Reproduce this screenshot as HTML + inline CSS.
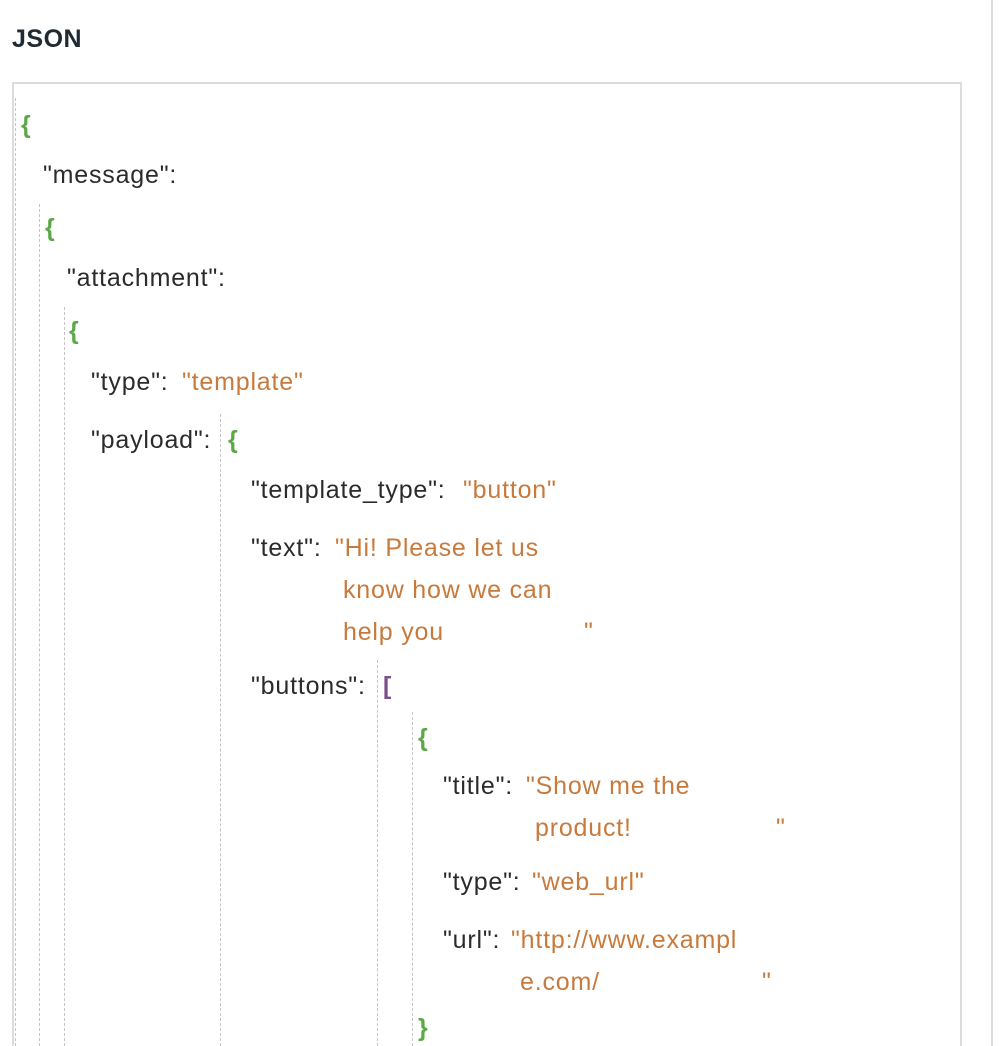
<!DOCTYPE html>
<html><head><meta charset="utf-8"><style>
html,body{margin:0;width:1008px;height:1046px;overflow:hidden}
body{background:#fff;position:relative;font-family:"Liberation Sans",Arial,sans-serif;}
.t{position:absolute;font-size:25px;line-height:28px;color:#2b2b2b;white-space:pre;letter-spacing:0.8px}
.o{color:#c87a3c}
.g{color:#5aa846;font-weight:bold}
.p{color:#7a4f8c;font-weight:bold}
.d{position:absolute;width:0;border-left:1.5px dashed #c4c4c4;bottom:0}
</style></head><body>
<div class="t" style="left:12px;top:25px;font-weight:bold;font-size:25px;color:#1f2a33;letter-spacing:0.5px">JSON</div>
<div style="position:absolute;left:12px;top:82px;width:947px;height:964px;border:2px solid #dcdcdc;border-bottom:none;box-sizing:border-box;width:950px"></div>
<div style="position:absolute;left:991px;top:0;width:2px;height:1046px;background:#dcdcdc"></div>
<div class="d" style="left:15px;top:98px"></div>
<div class="d" style="left:39px;top:204px"></div>
<div class="d" style="left:64px;top:307px"></div>
<div class="d" style="left:220px;top:414px"></div>
<div class="d" style="left:377px;top:660px"></div>
<div class="d" style="left:412px;top:712px"></div>

<div class="t g" style="left:21px;top:111px">{</div>
<div class="t" style="left:43px;top:161px">"message":</div>
<div class="t g" style="left:45px;top:214px">{</div>
<div class="t" style="left:67px;top:264px">"attachment":</div>
<div class="t g" style="left:69px;top:317px">{</div>
<div class="t" style="left:91px;top:368px">"type":</div>
<div class="t o" style="left:182px;top:368px">"template"</div>
<div class="t" style="left:91px;top:426px">"payload":</div>
<div class="t g" style="left:228px;top:426px">{</div>
<div class="t" style="left:251px;top:476px">"template_type":</div>
<div class="t o" style="left:463px;top:476px">"button"</div>
<div class="t" style="left:251px;top:534px">"text":</div>
<div class="t o" style="left:335px;top:534px">"Hi! Please let us</div>
<div class="t o" style="left:343px;top:576px">know how we can</div>
<div class="t o" style="left:343px;top:618px">help you</div>
<div class="t o" style="left:584px;top:618px">"</div>
<div class="t" style="left:251px;top:672px">"buttons":</div>
<div class="t p" style="left:383px;top:672px">[</div>
<div class="t g" style="left:418px;top:724px">{</div>
<div class="t" style="left:443px;top:772px">"title":</div>
<div class="t o" style="left:526px;top:772px">"Show me the</div>
<div class="t o" style="left:535px;top:814px">product!</div>
<div class="t o" style="left:776px;top:814px">"</div>
<div class="t" style="left:443px;top:868px">"type":</div>
<div class="t o" style="left:532px;top:868px">"web_url"</div>
<div class="t" style="left:443px;top:926px">"url":</div>
<div class="t o" style="left:511px;top:926px">"http://www.exampl</div>
<div class="t o" style="left:520px;top:968px">e.com/</div>
<div class="t o" style="left:762px;top:968px">"</div>
<div class="t g" style="left:418px;top:1014px">}</div>
</body></html>
